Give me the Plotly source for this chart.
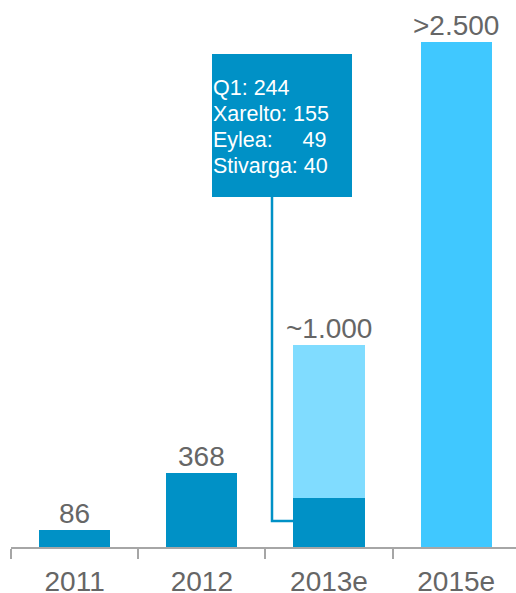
import plotly.graph_objects as go

categories = ["2011", "2012", "2013e", "2015e"]
base_values = [86, 368, 244, 0]
extra_values = [0, 0, 756, 2500]
bar_labels = ["86", "368", "~1.000", ">2.500"]
totals = [86, 368, 1000, 2500]
box_lines = ["Q1: 244", "Xarelto: 155", "Eylea:\u00a0\u00a0\u00a0\u00a0\u00a049", "Stivarga: 40"]

DARK = "#0091C6"
LIGHT = "#80DCFF"
CYAN = "#40C8FF"
GREY_TXT = "#666666"
AXIS = "#A6A6A6"
FONT = "Liberation Sans, Arial, sans-serif"

W, H = 516, 593
ML, MB = 11, 46
X_RANGE = [-0.5, 3.47]
Y_RANGE = [0, 2708]

def px2x(px):
    return X_RANGE[0] + (px - ML) / (W - ML) * (X_RANGE[1] - X_RANGE[0])

def px2y(py):
    return Y_RANGE[0] + (H - MB - py) / (H - MB) * (Y_RANGE[1] - Y_RANGE[0])

fig = go.Figure()
fig.add_trace(go.Bar(x=categories, y=base_values, width=0.56, marker_color=DARK,
                     marker_line_width=0, hoverinfo="skip"))
fig.add_trace(go.Bar(x=categories, y=extra_values, width=0.56,
                     marker_color=[LIGHT, LIGHT, LIGHT, CYAN],
                     marker_line_width=0, hoverinfo="skip"))

for i, (lab, tot) in enumerate(zip(bar_labels, totals)):
    fig.add_annotation(x=i, y=tot, text=lab, showarrow=False, yanchor="bottom",
                       xanchor="center", font=dict(size=28, color=GREY_TXT, family=FONT),
                       yshift=-1)

# callout box
fig.add_shape(type="rect", x0=px2x(212), x1=px2x(352), y0=px2y(197), y1=px2y(54),
              fillcolor=DARK, line_width=0, layer="above")
for i, line in enumerate(box_lines):
    fig.add_annotation(x=px2x(211), y=px2y(88 + 26 * i), text=line, showarrow=False,
                       xanchor="left", yanchor="middle", align="left",
                       font=dict(size=21.5, color="white", family=FONT))
# connector
fig.add_shape(type="path",
              path=f"M {px2x(272)} {px2y(197)} L {px2x(272)} {px2y(521)} L {px2x(294)} {px2y(521)}",
              line=dict(color=DARK, width=2.5), xref="x", yref="y")

fig.update_layout(
    barmode="stack", showlegend=False, width=W, height=H,
    margin=dict(l=ML, r=0, t=0, b=MB, autoexpand=False),
    plot_bgcolor="white", paper_bgcolor="white",
    font=dict(family=FONT, color=GREY_TXT),
    xaxis=dict(type="category", range=X_RANGE, categoryorder="array", categoryarray=categories,
               showline=True, linecolor=AXIS, linewidth=2, ticks="outside",
               tickson="boundaries", ticklen=10, tickwidth=2, tickcolor=AXIS,
               automargin=False, ticklabelstandoff=8,
               showgrid=False, zeroline=False, tickfont=dict(size=28, color=GREY_TXT)),
    yaxis=dict(range=Y_RANGE, visible=False, showgrid=False, zeroline=False, automargin=False),
)

fig.write_html("out.html", config={"displayModeBar": False},
               post_script="document.body.style.margin='0';document.body.style.overflow='hidden';")
